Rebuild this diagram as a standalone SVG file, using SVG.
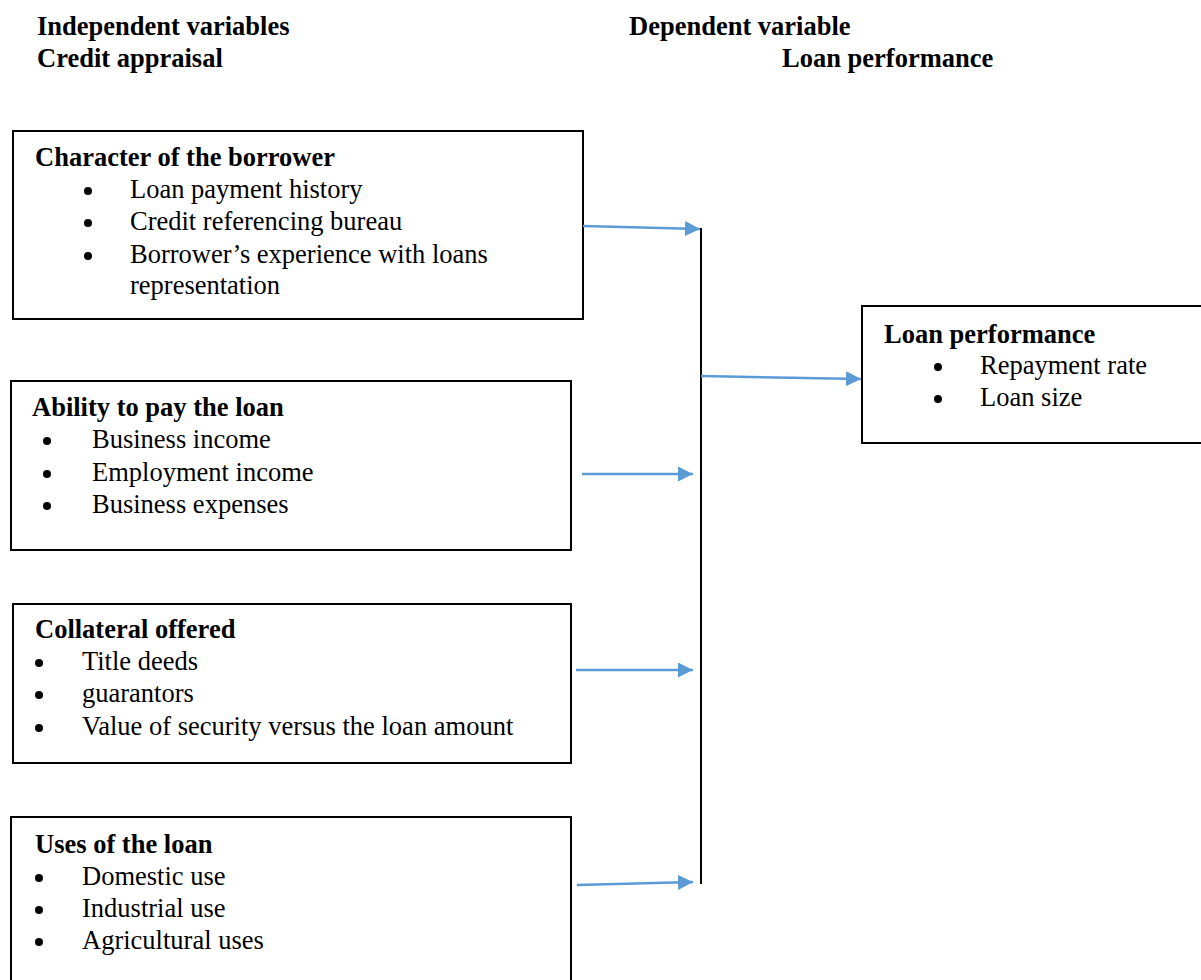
<svg xmlns="http://www.w3.org/2000/svg" width="1201" height="980" viewBox="0 0 1201 980">
<style>
text{font-family:"Liberation Serif","Times New Roman",serif;font-size:26.5px;fill:#000}
.b{font-weight:bold}
.box{fill:#fff;stroke:#000;stroke-width:2}
.con{stroke:#5B9BD5;stroke-width:2.5;fill:none}
.bul{fill:#000}
</style>
<defs>
<marker id="ah" viewBox="0 0 10 10" refX="10" refY="5" markerWidth="6" markerHeight="6" markerUnits="strokeWidth" orient="auto">
<path d="M0,0 L10,5 L0,10 z" fill="#5B9BD5"/>
</marker>
</defs>
<g id="headers">
<text class="b" x="37" y="35">Independent variables</text>
<text class="b" x="37" y="67">Credit appraisal</text>
<text class="b" x="629" y="35">Dependent variable</text>
<text class="b" x="782" y="67">Loan  performance</text>
</g>
<g id="character">
<rect class="box" x="13" y="131" width="570" height="188"/>
<text class="b" x="35" y="166">Character of the borrower</text>
<circle class="bul" cx="88" cy="191" r="4"/><text x="130" y="198">Loan payment history</text>
<circle class="bul" cx="88" cy="223" r="4"/><text x="130" y="230">Credit referencing bureau</text>
<circle class="bul" cx="88" cy="256" r="4"/><text x="130" y="263">Borrower’s experience with loans</text>
<text x="130" y="294">representation</text>
</g>
<g id="ability">
<rect class="box" x="11" y="381" width="560" height="169"/>
<text class="b" x="32" y="416">Ability to pay the loan</text>
<circle class="bul" cx="47" cy="441" r="4"/><text x="92" y="448">Business income</text>
<circle class="bul" cx="47" cy="474" r="4"/><text x="92" y="481">Employment income</text>
<circle class="bul" cx="47" cy="506" r="4"/><text x="92" y="513">Business expenses</text>
</g>
<g id="collateral">
<rect class="box" x="13" y="604" width="558" height="159"/>
<text class="b" x="35" y="638">Collateral offered</text>
<circle class="bul" cx="39" cy="663" r="4"/><text x="82" y="670">Title deeds</text>
<circle class="bul" cx="39" cy="695" r="4"/><text x="82" y="702">guarantors</text>
<circle class="bul" cx="39" cy="728" r="4"/><text x="82" y="735">Value of security versus the loan amount</text>
</g>
<g id="uses">
<rect class="box" x="11" y="817" width="560" height="175"/>
<text class="b" x="35" y="853">Uses of the loan</text>
<circle class="bul" cx="39" cy="878" r="4"/><text x="82" y="885">Domestic use</text>
<circle class="bul" cx="39" cy="910" r="4"/><text x="82" y="917">Industrial use</text>
<circle class="bul" cx="39" cy="942" r="4"/><text x="82" y="949">Agricultural uses</text>
</g>
<g id="performance">
<rect class="box" x="862" y="306" width="345" height="137"/>
<text class="b" x="884" y="343">Loan performance</text>
<circle class="bul" cx="938" cy="367" r="4"/><text x="980" y="374">Repayment rate</text>
<circle class="bul" cx="938" cy="399" r="4"/><text x="980" y="406">Loan size</text>
</g>
<g id="connectors">
<line x1="701" y1="228" x2="701" y2="884" stroke="#000" stroke-width="2"/>
<line class="con" x1="583" y1="226" x2="700" y2="229" marker-end="url(#ah)"/>
<line class="con" x1="701" y1="376" x2="861" y2="379" marker-end="url(#ah)"/>
<line class="con" x1="582" y1="474" x2="693" y2="474" marker-end="url(#ah)"/>
<line class="con" x1="576" y1="670" x2="693" y2="670" marker-end="url(#ah)"/>
<line class="con" x1="577" y1="885" x2="693" y2="882" marker-end="url(#ah)"/>
</g>
</svg>
